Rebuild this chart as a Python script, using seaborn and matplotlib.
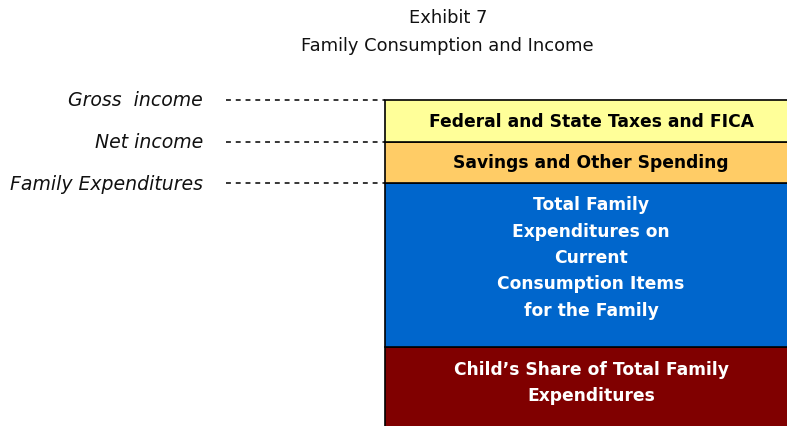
import numpy as np
import pandas as pd
import seaborn as sns
import matplotlib.pyplot as plt

# segmentos de la barra, de abajo hacia arriba
segmentos = ["Child's Share", "Total Family Expenditures", "Savings", "Taxes"]
alturas = [100, 164, 41, 42]
colores = ["#800000", "#0066CC", "#FFCC66", "#FFFF99"]
textos = ["Child\u2019s Share of Total Family\nExpenditures",
          "Total Family\nExpenditures on\nCurrent\nConsumption Items\nfor the Family",
          "Savings and Other Spending",
          "Federal and State Taxes and FICA"]
color_texto = ["white", "white", "black", "black"]

# niveles marcados a la izquierda (indice del segmento cuyo tope marcan)
niveles = ["Family Expenditures", "Net income", "Gross  income"]
nivel_idx = [1, 2, 3]

sns.set_theme(style="white")
plt.rcParams["font.family"] = ["DejaVu Sans"]

fig = plt.figure(figsize=(7.87, 4.27), dpi=100)
ax = fig.add_axes([0, 0, 1, 1])

base = np.concatenate([[0], np.cumsum(alturas)[:-1]])
datos = pd.DataFrame({"cat": ["Familia"] * len(alturas), "seg": segmentos,
                      "alto": alturas, "base": base})

for i, fila in datos.iterrows():
    sns.barplot(x=[fila["cat"]], y=[fila["alto"]], bottom=fila["base"],
                color=colores[i], saturation=1, width=0.8,
                edgecolor="black", linewidth=1.2, ax=ax)

# escala: 1 unidad en y = 1 px ; barra de 385 a 797 px
px_por_u = 412 / 0.8
x0 = -0.4 - 385 / px_por_u
ax.set_xlim(x0, x0 + 787 / px_por_u)
ax.set_ylim(21, 448)

def px(v):
    return x0 + v / px_por_u

# desplazamiento vertical del texto respecto al centro de cada segmento
ajuste = [15, 8, 0, 0]
for i in range(len(alturas)):
    centro = base[i] + alturas[i] / 2 + ajuste[i]
    ax.text(0, centro, textos[i], ha="center", va="center", color=color_texto[i],
            fontsize=12.3, fontweight="bold", linespacing=1.6 if i < 2 else 1.2)

tope = np.cumsum(alturas)
for nombre, idx in zip(niveles, nivel_idx):
    y = tope[idx]
    ax.plot([px(226), px(385)], [y, y], color="black", linestyle=(0, (3.2, 3.2)), lw=1.1)
    ax.text(px(203), y + 0, nombre, ha="right", va="center", fontsize=13.6,
            fontstyle="italic", color="#111111")

fig.text(448 / 787, 1 - 18 / 427, "Exhibit 7", ha="center", va="center", fontsize=12.9, color="#111111")
fig.text(447 / 787, 1 - 46 / 427, "Family Consumption and Income", ha="center", va="center",
         fontsize=12.9, color="#111111")

ax.axis("off")
fig.savefig("out.png", dpi=100)
